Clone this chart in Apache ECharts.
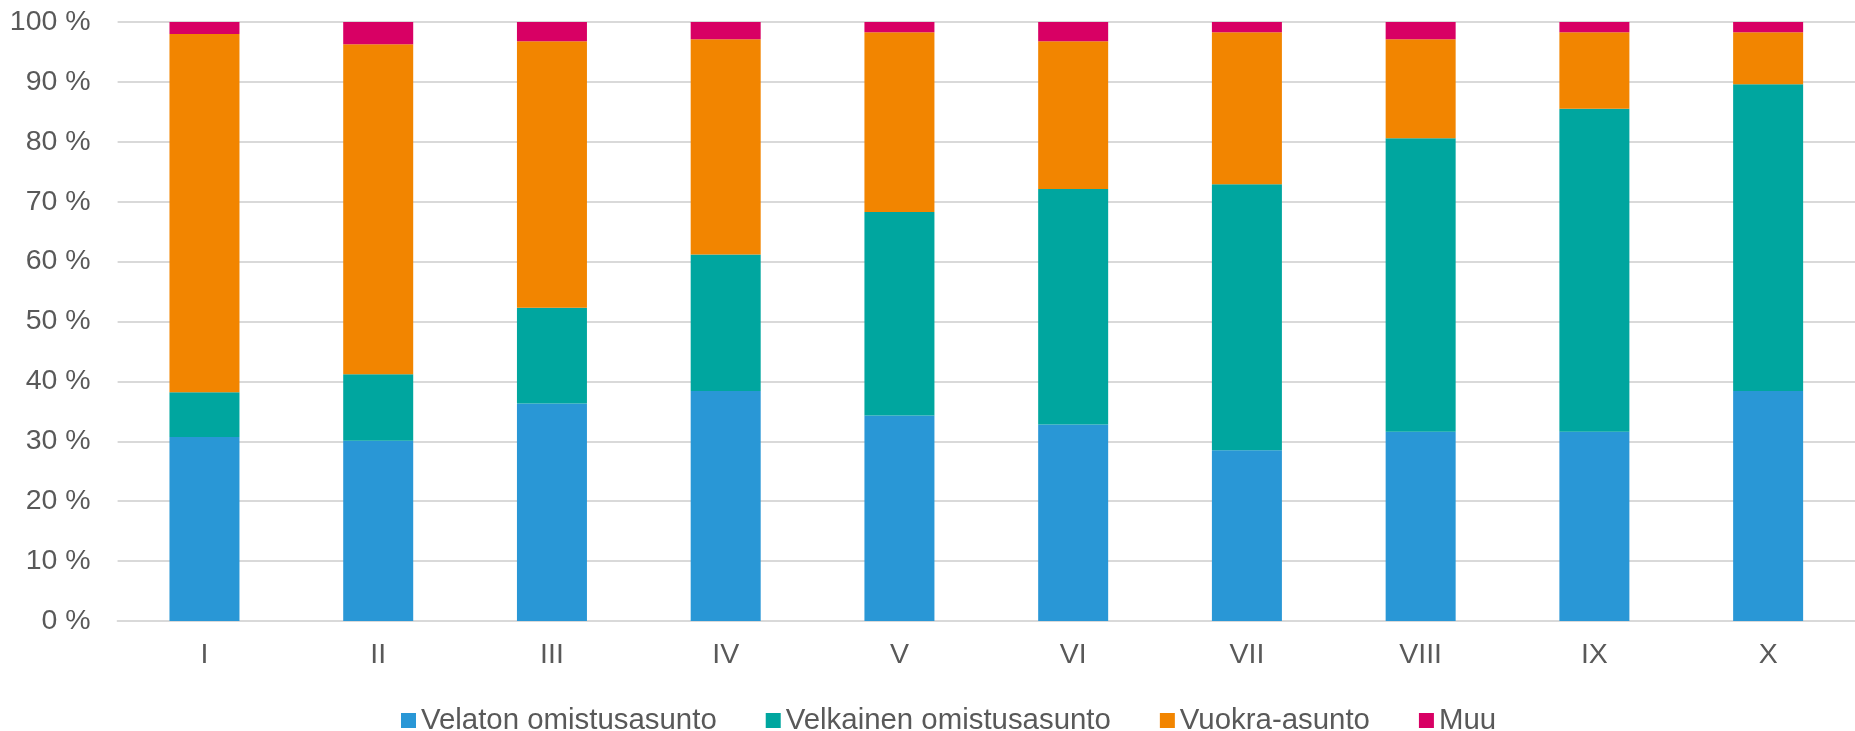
<!DOCTYPE html>
<html>
<head>
<meta charset="utf-8">
<script src="https://cdn.jsdelivr.net/npm/echarts@6/dist/echarts.min.js"></script>
<style>
html,body{margin:0;padding:0;background:#fff;}
#chart{width:1855px;height:731px;}
</style>
</head>
<body>
<div id="chart"></div>
<script>
const categories = ['I','II','III','IV','V','VI','VII','VIII','IX','X'];
const seriesNames = ['Velaton omistusasunto','Velkainen omistusasunto','Vuokra-asunto','Muu'];
const velaton   = [30.7, 30.1, 36.3, 38.4, 34.3, 32.8, 28.5, 31.6, 31.6, 38.4];
const velkainen = [7.5, 11.1, 16.0, 22.8, 34.0, 39.3, 44.4, 49.0, 53.9, 51.2];
const vuokra    = [59.8, 55.1, 44.5, 35.9, 30.0, 24.7, 25.4, 16.5, 12.8, 8.7];
const muu       = [2.0, 3.7, 3.2, 2.9, 1.7, 3.2, 1.7, 2.9, 1.7, 1.7];
const colors = ['#2997D6', '#00A69F', '#F28500', '#D80064'];
const yTicks = { min: 0, max: 100, interval: 10 };

const chart = echarts.init(document.getElementById('chart'));
const font = 'Liberation Sans, Arial, sans-serif';
const values = [velaton, velkainen, vuokra, muu];
chart.setOption({
  animation: false,
  color: colors,
  textStyle: { fontFamily: font },
  grid: { left: 117.6, right: -5.6, top: 22, bottom: 110, containLabel: false },
  legend: {
    data: seriesNames,
    left: 396,
    top: 701,
    icon: 'rect',
    itemWidth: 15,
    itemHeight: 15,
    itemGap: 49,
    textStyle: { fontSize: 29.4, color: '#595959', fontFamily: font }
  },
  xAxis: {
    type: 'category',
    data: categories,
    axisTick: { show: false },
    axisLine: { lineStyle: { color: '#d9d9d9', width: 2 } },
    axisLabel: { fontSize: 28.5, color: '#595959', margin: 20, fontFamily: font }
  },
  yAxis: {
    type: 'value',
    min: yTicks.min,
    max: yTicks.max,
    interval: yTicks.interval,
    axisLine: { show: false },
    axisTick: { show: false },
    splitLine: { lineStyle: { color: '#d9d9d9', width: 2 } },
    axisLabel: { fontSize: 28.5, color: '#595959', margin: 27, formatter: '{value} %', fontFamily: font }
  },
  series: seriesNames.map((name, i) => ({
    name: name,
    type: 'bar',
    stack: 'total',
    barWidth: 70,
    data: values[i],
    itemStyle: { color: colors[i] }
  }))
});
</script>
</body>
</html>
